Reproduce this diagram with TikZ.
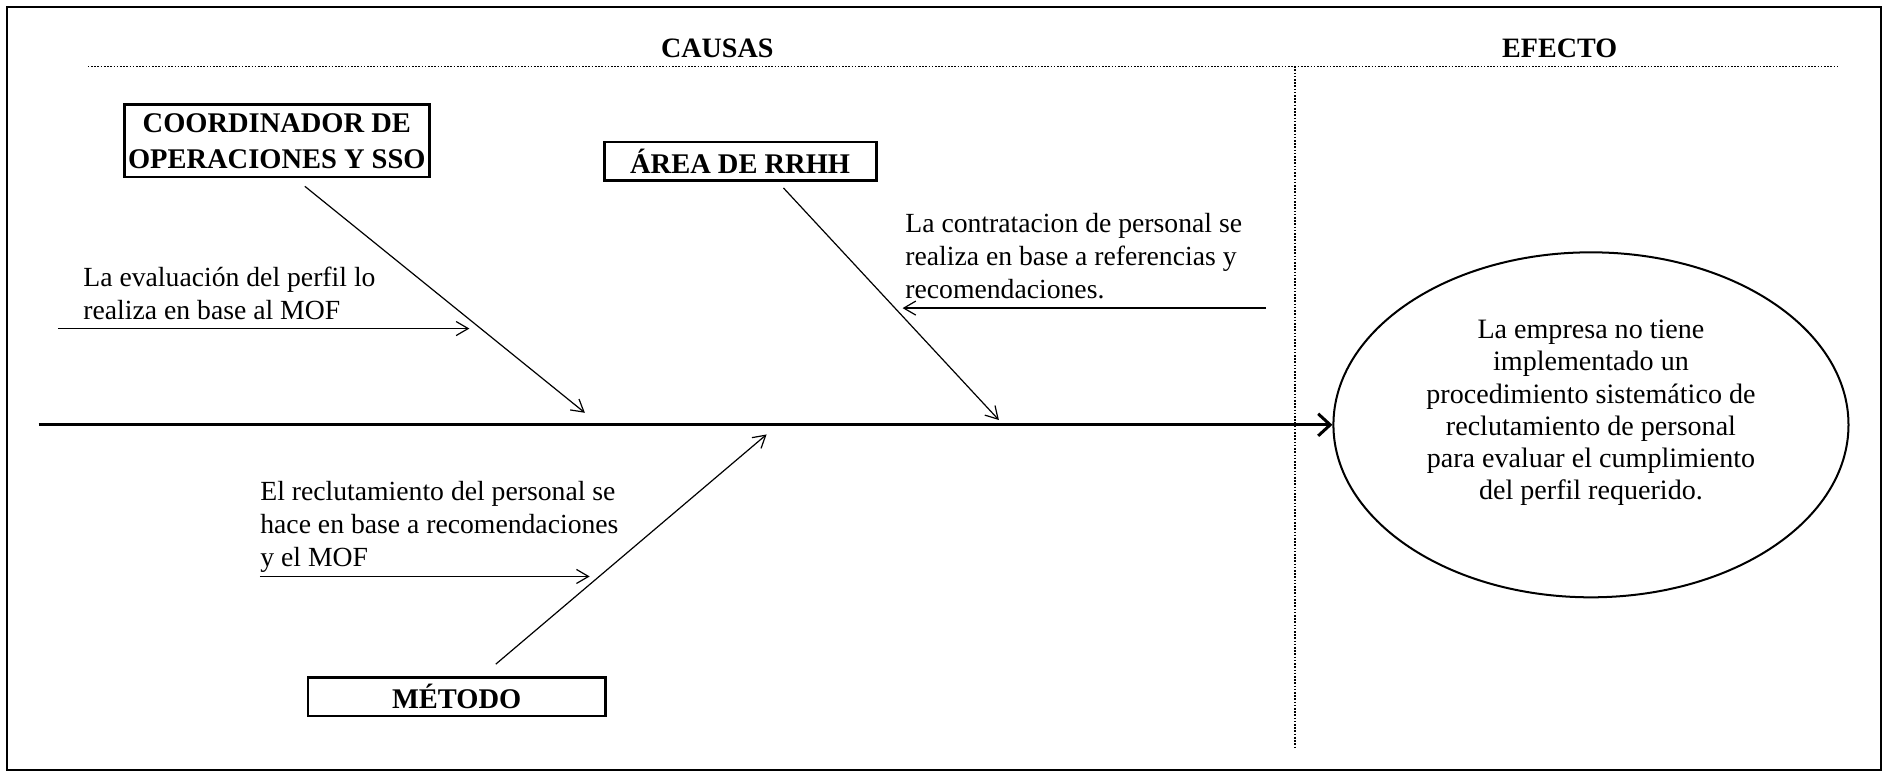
\documentclass[tikz,border=0pt]{standalone}
\usepackage{fontspec}
\setmainfont{Liberation Serif}
\usetikzlibrary{arrows.meta,positioning}
\usetikzlibrary{shapes.geometric}
\tikzstyle{cb}=[draw, line width=1.4pt, align=center, inner sep=0pt, font=\fontsize{14.2}{18}\selectfont\bfseries]
\tikzstyle{ct}=[align=left, inner sep=0pt, font=\fontsize{13.8}{16.5}\selectfont]
\tikzstyle{hd}=[font=\fontsize{14}{16}\selectfont\bfseries]
\tikzstyle{sep}=[line width=0.6pt, dash pattern=on 0.8pt off 0.8pt]

\begin{document}
\begin{tikzpicture}[x=0.6pt, y=-0.6pt, >={Straight Barb[length=6pt,width=7pt]}]
\useasboundingbox (0,0) rectangle (1568,645);
\draw[line width=1pt] (6,6) rectangle (1563,640);
\node[hd] (causas) at (596,40) {CAUSAS};
\node[hd] (efecto) at (1296,40) {EFECTO};
\draw[sep] (73,55) -- (1527,55);
\draw[sep] (1076,55) -- (1076,622);
\node[cb, minimum width=152pt, minimum height=36pt] (coord) at (230,117) {COORDINADOR DE\\OPERACIONES Y SSO};
\node[cb, minimum width=135.6pt, minimum height=19.2pt] (rrhh) at (615,134) {ÁREA DE RRHH};
\node[cb, minimum width=148.2pt, minimum height=19.2pt] (metodo) at (379.5,579) {MÉTODO};
\node[draw, ellipse, line width=1pt, minimum width=256.8pt, minimum height=172pt] (efe) at (1322,353) {};
\node[align=center, inner sep=0pt, font=\fontsize{14}{16}\selectfont] (efetxt) at (1322,343) {La empresa no tiene\\implementado un\\procedimiento sistemático de\\reclutamiento de personal\\para evaluar el cumplimiento\\del perfil requerido.};
\coordinate (cola) at (32,353);
\draw[->, line width=1.5pt, >={Straight Barb[length=6pt,width=11pt]}] (cola) -- (efe.west);
\coordinate[below=4pt of coord.south, xshift=14pt] (b1);
\coordinate[below=3pt of rrhh.south, xshift=21.6pt] (b2);
\coordinate[above=6pt of metodo.north, xshift=19.5pt] (b3);
\coordinate (e1) at (486,343);
\coordinate (e2) at (830,349);
\coordinate (e3) at (637,361);
\draw[->, line width=0.6pt] (b1) -- (e1);
\draw[->, line width=0.6pt] (b2) -- (e2);
\draw[->, line width=0.6pt] (b3) -- (e3);
\node[ct, anchor=west] (t1) at (69,244) {La evaluación del perfil lo\\realiza en base al MOF};
\node[ct, anchor=west] (t2) at (752,213) {La contratacion de personal se\\realiza en base a referencias y\\recomendaciones.};
\node[ct, anchor=west] (t3) at (216,438) {El reclutamiento del personal se\\hace en base a recomendaciones\\y el MOF};
\coordinate (s1) at (48,273);
\coordinate (f1) at (390,273);
\coordinate (s2) at (1052,256);
\coordinate (f2) at (750,256);
\coordinate (s3) at (216,479);
\coordinate (f3) at (490,479);
\draw[->, line width=0.6pt] (s1) -- (f1);
\draw[->, line width=0.6pt] (s2) -- (f2);
\draw[->, line width=0.6pt] (s3) -- (f3);
\end{tikzpicture}
\end{document}
